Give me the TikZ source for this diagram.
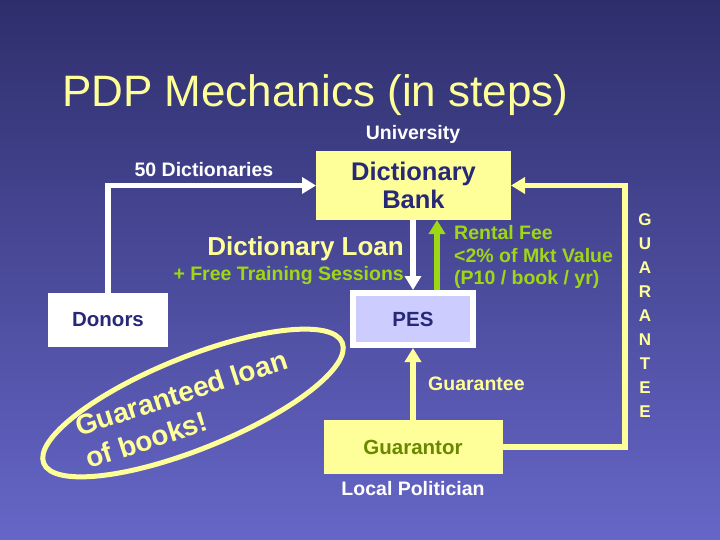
\documentclass[tikz,border=0pt]{standalone}
\usepackage{fontspec}
\setmainfont{Liberation Sans}
\usetikzlibrary{arrows.meta}
\definecolor{bgtop}{RGB}{46,46,108}
\definecolor{bgbot}{RGB}{102,102,200}
\definecolor{paleyellow}{RGB}{255,255,153}
\definecolor{navy}{RGB}{40,40,120}
\definecolor{lime}{RGB}{160,215,20}
\definecolor{olivetext}{RGB}{105,135,0}
\definecolor{lavender}{RGB}{204,204,255}
\begin{document}
\begin{tikzpicture}[x=1pt,y=-1pt,
  lbl/.style={inner sep=0pt, font=\bfseries\fontsize{19.5}{23}\selectfont},
  boxnode/.style={rectangle, inner sep=0pt, outer sep=0pt, font=\bfseries\fontsize{20.5}{23}\selectfont},
  conn/.style={line width=5.5pt, -{Triangle[width=16pt,length=14pt]}},
  slogan/.style={font=\bfseries\fontsize{28}{34}\selectfont, text=paleyellow, align=left, anchor=base west, rotate=18, inner sep=0pt},
  vletter/.style={font=\bfseries\fontsize{17}{20}\selectfont, text=paleyellow, inner sep=0pt}]
\shade[top color=bgtop, bottom color=bgbot] (0,0) rectangle (720,540);
\useasboundingbox (0,0) rectangle (720,540);

% title
\node[font=\fontsize{44}{50}\selectfont, text=paleyellow, anchor=base west, inner sep=0pt] (title) at (62,107) {PDP Mechanics (in steps)};

% boxes
\node[boxnode, fill=paleyellow, minimum width=195pt, minimum height=69pt, text=navy,
      font=\bfseries\fontsize{25.5}{28}\selectfont, align=center] (bank) at (413.5,185.5) {Dictionary\\Bank};
\node[boxnode, fill=white, minimum width=120pt, minimum height=54pt, text=navy] (donors) at (108,320) {Donors};
\node[boxnode, fill=lavender, draw=white, line width=6pt, outer sep=3pt, minimum width=120pt, minimum height=52pt, text=navy] (pes) at (413,319) {PES};
\node[boxnode, fill=paleyellow, minimum width=179pt, minimum height=54pt, text=olivetext] (guarantor) at (413,447) {Guarantor};

% labels
\node[lbl, text=white, anchor=base] (univ) at (413,140) {University};
\node[lbl, text=white, anchor=base] (fifty) at (204,177) {50 Dictionaries};
\node[font=\bfseries\fontsize{26}{30}\selectfont, text=paleyellow, anchor=base east, inner sep=0pt] (loan) at (404,255) {Dictionary Loan};
\node[lbl, text=lime, anchor=base east] (training) at (404,280) {+ Free Training Sessions};
\node[lbl, text=lime, anchor=base west] (fee1) at (454,240) {Rental Fee};
\node[lbl, text=lime, anchor=base west] (fee2) at (454,262) {<2\% of Mkt Value};
\node[lbl, text=lime, anchor=base west] (fee3) at (454,284) {(P10 / book / yr)};
\node[lbl, text=paleyellow, anchor=base west] (gtee) at (428,390) {Guarantee};
\node[lbl, text=white, anchor=base] (local) at (413,495) {Local Politician};

% vertical GUARANTEE
\foreach \l [count=\i] in {G,U,A,R,A,N,T,E,E}
  \node[vletter] (g\i) at (645,196+24*\i) {\l};

% ellipse with slogan (anchor = baseline of the last line)
\draw[paleyellow, line width=5pt, rotate around={22:(193,403)}] (193,403) ellipse [x radius=161pt, y radius=46pt];
\node[slogan] (slogan) at (89.5,469) {Guaranteed loan\\of books!};

% connectors
\draw[conn, white] (donors.north) |- (bank.west);
\draw[conn, white] (bank.south -| pes.north) -- (pes.north);
\coordinate (gl) at ([xshift=24pt]pes.north);
\draw[conn, lime] (gl) -- (gl |- bank.south);
\draw[conn, paleyellow] (guarantor.north) -- (pes.south);
\coordinate (gcorner) at (625,447);
\draw[conn, paleyellow] (guarantor.east) -- (gcorner) |- (bank.east);
\end{tikzpicture}
\end{document}
